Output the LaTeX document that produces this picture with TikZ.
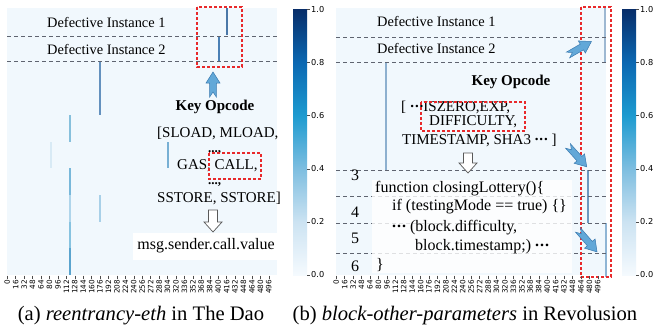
\documentclass[tikz,border=0pt]{standalone}
\usepackage{fontspec}
\setmainfont{Liberation Serif}
\newfontfamily\tickfont{DejaVu Sans}
\usetikzlibrary{calc}
\definecolor{hmbg}{HTML}{F1F8FD}
\definecolor{dashgray}{HTML}{5F6470}
\definecolor{redbox}{HTML}{E8292B}
\definecolor{arrfill}{HTML}{62A8D8}
\definecolor{arrdraw}{HTML}{3A7AB0}
\definecolor{cb0}{HTML}{F5FAFE}
\definecolor{cb2}{HTML}{CCE3F2}
\definecolor{cb4}{HTML}{7EBEE0}
\definecolor{cb6}{HTML}{1D9BD0}
\definecolor{cb8}{HTML}{0B68B2}
\definecolor{cb10}{HTML}{082E6A}
\pgfdeclareverticalshading{cbblues}{100bp}{color(0bp)=(cb0); color(25bp)=(cb0); color(35bp)=(cb2); color(45bp)=(cb4); color(55bp)=(cb6); color(65bp)=(cb8); color(75bp)=(cb10); color(100bp)=(cb10)}
\newcommand{\fatarr}[4]{%
  \begin{scope}[shift={(#1,#2)}, rotate=#3]
    \filldraw[fatarrow] (0,-3.3) -- ({#4-11},-3.3) -- ({#4-11},-7) -- (#4,0) -- ({#4-11},7) -- ({#4-11},3.3) -- (0,3.3) -- (5,0) -- cycle;
  \end{scope}}
\newcommand{\hollowdown}[3]{%
  \filldraw[hollowarrow] ({#1-4.5},#2) -- ({#1+4.5},#2) -- ({#1+4.5},{#3-10}) -- ({#1+9},{#3-10}) -- (#1,#3) -- ({#1-9},{#3-10}) -- ({#1-4.5},{#3-10}) -- cycle;}
\newcommand{\mydots}{\raisebox{0.25em}{\textbf{.\kern0.06em.\kern0.06em.}}}
\begin{document}
\begin{tikzpicture}[x=1pt,y=-1pt,
  hm/.style={fill=hmbg,draw=none},
  sep/.style={draw=dashgray,line width=0.9pt,dash pattern=on 4pt off 3pt},
  rbox/.style={draw=redbox,line width=1.1pt,dash pattern=on 3pt off 2pt},
  vl/.style={line width=1.3pt},
  fatarrow/.style={fill=arrfill,draw=arrdraw,line width=0.5pt},
  hollowarrow/.style={fill=white,draw=black!65,line width=0.7pt},
  lbl/.style={font=\fontsize{14.4}{16}\selectfont,inner sep=0pt},
  opc/.style={font=\fontsize{15}{17}\selectfont,inner sep=0pt},
  dotsty/.style={font=\fontsize{13}{13}\selectfont\bfseries,inner sep=0pt},
  code/.style={font=\fontsize{16}{18}\selectfont,inner sep=0pt},
  captext/.style={font=\fontsize{20.6}{23}\selectfont,inner sep=0pt},
  tk/.style={font=\tickfont\fontsize{7.3}{8}\selectfont,inner sep=0.6pt},
  cbl/.style={font=\tickfont\fontsize{8.2}{9}\selectfont,inner sep=0pt,anchor=west}]
\useasboundingbox (0,0) rectangle (655,332);
\fill[white] (0,0) rectangle (655,332);

% ---------------- panel (a) ----------------
\fill[hm] (7,8) rectangle (277,275);
% attention lines
\draw[vl,draw={rgb,255:red,74;green,120;blue,168}] (227,8) -- (227,35);
\draw[vl,draw={rgb,255:red,74;green,128;blue,181}] (219,36) -- (219,61);
\draw[vl,draw={rgb,255:red,100;green,145;blue,190}] (100,61) -- (100,115);
\draw[vl,draw={rgb,255:red,135;green,192;blue,220}] (70,115) -- (70,142);
\draw[vl,draw={rgb,255:red,216;green,234;blue,245}] (51,142) -- (51,168);
\draw[vl,draw={rgb,255:red,120;green,176;blue,212}] (168,142) -- (168,168);
\draw[vl,draw={rgb,255:red,120;green,184;blue,218}] (70,168) -- (70,195);
\draw[vl,draw={rgb,255:red,175;green,213;blue,235}] (70,195) -- (70,222);
\draw[vl,draw={rgb,255:red,168;green,208;blue,232}] (100,195) -- (100,222);
\draw[vl,draw={rgb,255:red,135;green,195;blue,224}] (70,222) -- (70,248);
\draw[vl,draw={rgb,255:red,90;green,164;blue,206}] (70,248) -- (70,275);
% separators
\draw[sep] (7,36) -- (277,36);
\draw[sep] (7,61) -- (277,61);
\node[lbl,anchor=west] (ai1) at (47,23) {Defective Instance 1};
\node[lbl,anchor=west] (ai2) at (47,50) {Defective Instance 2};
\draw[rbox] (197,7) rectangle (242,67);
\fatarr{213}{97}{90}{25}
\node[opc,font=\fontsize{15}{17}\selectfont\bfseries] (ako) at (215,107) {Key Opcode};
\node[opc,anchor=west] (aop1) at (157,133) {[SLOAD, MLOAD,};
\node[dotsty,anchor=base west] (ad1) at (208,152) {...,};
\node[opc,anchor=west] (aop2) at (177,166) {GAS, CALL,};
\draw[rbox] (209,153) rectangle (261,179);
\node[dotsty,anchor=base west] (ad2) at (208,184) {...,};
\node[opc,anchor=west] (aop3) at (157,198) {SSTORE, SSTORE]};
\hollowdown{213}{210}{232}
\fill[white] (133,233) rectangle (279,260);
\node[code] (amsg) at (206,246) {msg.sender.call.value};
% x ticks
\foreach \i in {0,...,31}{
  \pgfmathsetmacro\xx{7+(16*\i+0.5)*0.52734375}
  \pgfmathtruncatemacro\lab{16*\i}
  \draw[black!70,line width=0.5pt] (\xx,275.5) -- (\xx,278.5);
  \node[tk,rotate=90,anchor=east] at (\xx,279) {\lab};
}
% colorbar
\shade[shading=cbblues] (293,9.5) rectangle (307,275);
\foreach \v/\t in {0/0.0,0.2/0.2,0.4/0.4,0.6/0.6,0.8/0.8,1/1.0}{
  \pgfmathsetmacro\yy{275-\v*265.5}
  \draw[black!70,line width=0.5pt] (307,\yy) -- (310,\yy);
  \node[cbl] at (311,\yy) {\t};
}
\node[captext] (capa) at (141,316) {(a) \textit{reentrancy-eth} in The Dao};

% ---------------- panel (b) ----------------
\fill[hm] (336,8) rectangle (606,275);
\draw[vl,draw={rgb,255:red,141;green,176;blue,207}] (386,62) -- (386,170);
\draw[vl,draw={rgb,255:red,157;green,184;blue,210}] (605,8) -- (605,62);
\draw[vl,draw={rgb,255:red,109;green,152;blue,192}] (588,170) -- (588,223);
\draw[vl,draw={rgb,255:red,143;green,181;blue,213}] (606,223) -- (606,277);
\foreach \yy in {37,62,170,196,223,253}{ \draw[sep] (336,\yy) -- (607,\yy); }
\node[lbl,anchor=west] (bi1) at (377,22) {Defective Instance 1};
\node[lbl,anchor=west] (bi2) at (377,48) {Defective Instance 2};
\node[opc,font=\fontsize{15}{17}\selectfont\bfseries] (bko) at (511,82) {Key Opcode};
\node[opc,anchor=west] (bop1) at (401,107) {[\;\mydots ISZERO,EXP,};
\node[opc,anchor=west] (bop2) at (429,122) {DIFFICULTY,};
\node[opc,anchor=west] (bop3) at (402,140) {TIMESTAMP, SHA3 \mydots\ ]};
\draw[rbox] (421,102) rectangle (525,131);
\hollowdown{468}{153}{173}
\fill[white,opacity=0.8] (372,180) rectangle (572,273);
\node[code] (n3) at (355,175) {3};
\node[code] (n4) at (355,212) {4};
\node[code] (n5) at (355,238) {5};
\node[code] (n6) at (355,266) {6};
\node[code,anchor=west] (c1) at (375,189) {function closingLottery()\{};
\node[code,anchor=west] (c2) at (392,207) {if (testingMode == true) \{\}};
\node[code,anchor=west] (c3) at (392,228) {\mydots\ (block.difficulty,};
\node[code,anchor=west] (c4) at (415,247) {block.timestamp;) \mydots};
\node[code,anchor=west] (c5) at (376,265) {\}};
\draw[rbox] (581,7) rectangle (611,277);
\fatarr{568}{55}{30}{27}
\fatarr{568}{146}{-48}{28}
\fatarr{578}{230}{-49}{29}
\foreach \i in {0,...,31}{
  \pgfmathsetmacro\xx{336+(16*\i+0.5)*0.52734375}
  \pgfmathtruncatemacro\lab{16*\i}
  \draw[black!70,line width=0.5pt] (\xx,275.5) -- (\xx,278.5);
  \node[tk,rotate=90,anchor=east] at (\xx,279) {\lab};
}
\shade[shading=cbblues] (622,9.5) rectangle (636,275);
\foreach \v/\t in {0/0.0,0.2/0.2,0.4/0.4,0.6/0.6,0.8/0.8,1/1.0}{
  \pgfmathsetmacro\yy{275-\v*265.5}
  \draw[black!70,line width=0.5pt] (636,\yy) -- (639,\yy);
  \node[cbl] at (640,\yy) {\t};
}
\node[captext] (capb) at (465,316) {(b) \textit{block-other-parameters} in Revolusion};
\end{tikzpicture}
\end{document}
